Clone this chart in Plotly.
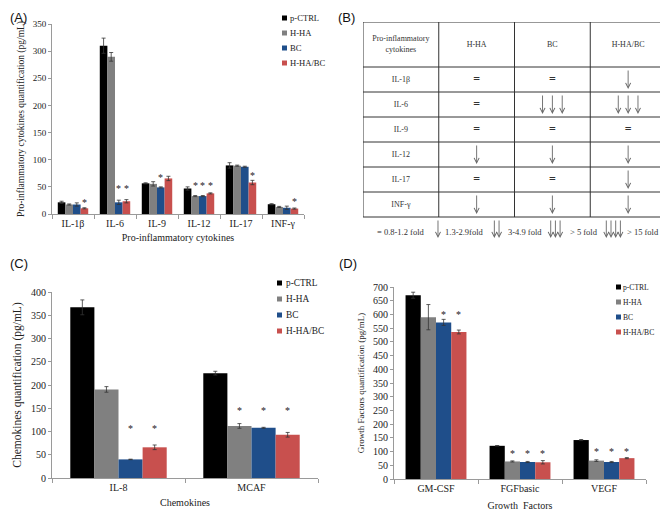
import plotly.graph_objects as go

# the page puts the plot 8px in from the window's top-left corner
W, H, OFF = 660, 503, 8

groups = ['p-CTRL', 'H-HA', 'BC', 'H-HA/BC']
colors = ['#000000', '#808080', '#1f4e8a', '#c8504e']

# (A) pro-inflammatory cytokines, rows = groups
cyto = ['IL-1β', 'IL-6', 'IL-9', 'IL-12', 'IL-17', 'INF-γ']
cyto_mean = [
    [21.5, 310, 56.5, 47, 89.5, 18],
    [17.5, 289.5, 55.5, 33, 89, 13],
    [17.5, 21.5, 49, 33, 87, 11.5],
    [10.5, 23.5, 65.5, 38, 58, 10],
]
cyto_err = [
    [2, 14, 1, 3, 5, 1],
    [1, 8, 4, 1, 1, 1],
    [3, 4, 1, 1, 1, 3],
    [1, 3, 4, 1, 4, 1],
]
cyto_star = [
    [None, None, None, None, None, None],
    [None, None, None, 56.5, None, None],
    [None, 51, 71, 56.5, None, None],
    [24, 51, None, 56.5, 75, 27],
]

# (B) fold change table: 0 = "=", n = number of down arrows
table_rows = ['IL-1β', 'IL-6', 'IL-9', 'IL-12', 'IL-17', 'INF-γ']
table_cols = ['H-HA', 'BC', 'H-HA/BC']
fold = [
    [0, 0, 1],
    [0, 3, 3],
    [0, 0, 0],
    [1, 1, 1],
    [0, 0, 1],
    [1, 1, 1],
]
key_labels = ['= 0.8-1.2 fold', '1.3-2.9fold', '3-4.9 fold', '> 5 fold', '> 15 fold']
key_arrows = [0, 1, 2, 3, 4]

# (C) chemokines
chemo = ['IL-8', 'MCAF']
chemo_mean = [[367, 225.5], [190.5, 112], [40, 108], [66, 93]]
chemo_err = [[16, 4], [6, 5], [0.5, 1], [5, 5]]
chemo_star = [[None, None], [None, 150], [110, 150], [110, 150]]

# (D) growth factors
gf = ['GM-CSF', 'FGFbasic', 'VEGF']
gf_mean = [[670, 121, 142], [590, 64, 67], [571, 62, 62], [536, 61, 76]]
gf_err = [[11, 1, 2], [46, 2, 3], [11, 2, 2], [7, 6, 2]]
gf_star = [[None, None, None], [None, 99, 108], [608, 99, 108], [608, 99, 108]]

SERIF = 'Liberation Serif'
SANS = 'Liberation Sans'
TXT = '#222222'
AX = '#9a9a9a'
BARGAP = 0.275


def fx(p):
    return (p - OFF) / W


def fy(p):
    return 1 - (p - OFF) / H


fig = go.Figure()
annotations = []
shapes = []

panels = [
    dict(ax='', cats=cyto, mean=cyto_mean, err=cyto_err, star=cyto_star,
         xpx=(52, 304), ypx=(214, 24), ymax=350, tick=9, cat=10,
         ytitle='Pro-inflammatory cytokines quantification (pg/mL)', yts=9.5,
         xtitle='Pro-inflammatory cytokines', xts=10, xso=5,
         leg=(282, 288, 18, 15, 8.6)),
    dict(ax='3', cats=chemo, mean=chemo_mean, err=chemo_err, star=chemo_star,
         xpx=(52, 318), ypx=(478, 292), ymax=400, tick=10, cat=10,
         ytitle='Chemokines quantification (pg/mL)', yts=11.5,
         xtitle='Chemokines', xts=10, xso=6,
         leg=(277, 284, 283, 16, 9.3)),
    dict(ax='4', cats=gf, mean=gf_mean, err=gf_err, star=gf_star,
         xpx=(394, 646), ypx=(479, 287), ymax=700, tick=10, cat=10,
         ytitle='Growth Factors quantification (pg/mL)', yts=9,
         xtitle='Growth  Factors', xts=10, xso=8,
         leg=(616, 621, 287, 15, 7.6)),
]

layout_axes = {}
for p in panels:
    xa, ya = 'x' + p['ax'], 'y' + p['ax']
    for j, g in enumerate(groups):
        fig.add_trace(go.Bar(
            x=p['cats'], y=p['mean'][j], name=g, xaxis=xa, yaxis=ya,
            marker=dict(color=colors[j], line=dict(width=0)),
            error_y=dict(type='data', array=p['err'][j], color='#333333',
                         thickness=0.8, width=2),
            showlegend=False,
        ))
        # significance asterisks
        w = (1 - BARGAP) / len(groups)
        for i, s in enumerate(p['star'][j]):
            if s is None:
                continue
            annotations.append(dict(
                x=i - (1 - BARGAP) / 2 + (j + 0.5) * w, y=s, xref=xa, yref=ya,
                text='*', showarrow=False, yanchor='middle', yshift=-2,
                font=dict(family=SERIF, size=10, color=TXT)))
    layout_axes['xaxis' + p['ax']] = dict(
        domain=[fx(p['xpx'][0]), fx(p['xpx'][1])], anchor=ya, type='category',
        showline=True, linecolor=AX, linewidth=1, ticks='outside',
        tickson='boundaries', ticklen=4, tickcolor=AX, showgrid=False,
        tickfont=dict(family=SERIF, size=p['cat'], color=TXT),
        title=dict(text=p['xtitle'], font=dict(family=SERIF, size=p['xts'], color=TXT),
                   standoff=p['xso']))
    layout_axes['yaxis' + p['ax']] = dict(
        domain=[fy(p['ypx'][0]), fy(p['ypx'][1])], anchor=xa,
        range=[0, p['ymax']], dtick=50, showline=True, linecolor=AX, linewidth=1,
        ticks='outside', ticklen=3, tickcolor=AX, showgrid=False, zeroline=False,
        tickfont=dict(family=SERIF, size=p['tick'], color=TXT),
        title=dict(text=p['ytitle'], font=dict(family=SERIF, size=p['yts'], color=TXT),
                   standoff=6))
    # legend key
    sx, tx, y0, step, fs = p['leg']
    for j, g in enumerate(groups):
        yc = y0 + j * step
        shapes.append(dict(type='rect', xref='paper', yref='paper',
                           x0=fx(sx), x1=fx(sx + 5), y0=fy(yc + 2.5), y1=fy(yc - 2.5),
                           fillcolor=colors[j], line=dict(width=0)))
        annotations.append(dict(x=fx(tx), y=fy(yc), xref='paper', yref='paper',
                                text=g, showarrow=False, xanchor='left', yanchor='middle',
                                font=dict(family=SERIF, size=fs, color=TXT)))

# ---- (B) table on hidden axes ----
n_rows = len(table_rows)
head_h = 1.8
top = n_rows + head_h
layout_axes['xaxis2'] = dict(domain=[fx(363), fx(666)], range=[0, 4], visible=False,
                             anchor='y2', fixedrange=True)
layout_axes['yaxis2'] = dict(domain=[fy(245), fy(22)], range=[-1.12, top], visible=False,
                             anchor='x2', fixedrange=True)

LINE = '#333333'
for c in range(len(table_cols) + 2):
    shapes.append(dict(type='line', xref='x2', yref='y2', x0=c, x1=c, y0=0, y1=top,
                       line=dict(color=LINE, width=1)))
for r in list(range(n_rows + 1)) + [top]:
    shapes.append(dict(type='line', xref='x2', yref='y2', x0=0, x1=4, y0=r, y1=r,
                       line=dict(color=LINE, width=1)))

tx_x, tx_y, tx_t = [], [], []
tx_x.append(0.5); tx_y.append(top - head_h / 2); tx_t.append('Pro-inflammatory<br>cytokines')
for c, name in enumerate(table_cols):
    tx_x.append(c + 1.5); tx_y.append(top - head_h / 2); tx_t.append(name)
for r, name in enumerate(table_rows):
    tx_x.append(0.5); tx_y.append(n_rows - r - 0.5); tx_t.append(name)
fig.add_trace(go.Scatter(x=tx_x, y=tx_y, text=tx_t, mode='text', xaxis='x2', yaxis='y2',
                         textfont=dict(family=SERIF, size=8, color='#333333'),
                         showlegend=False, hoverinfo='skip'))

eq_x, eq_y = [], []


def arrows(xc, y_tail, y_tip, n, spacing):
    for k in range(n):
        xk = xc + (k - (n - 1) / 2) * spacing
        annotations.append(dict(x=xk, y=y_tip, ax=xk, ay=y_tail, xref='x2', yref='y2',
                                axref='x2', ayref='y2', text='', showarrow=True,
                                arrowhead=5, arrowsize=1.1, arrowwidth=0.9,
                                arrowcolor='#666666'))


for r, row in enumerate(fold):
    for c, v in enumerate(row):
        xc = c + 1.5
        yc = n_rows - r - 0.5
        if v == 0:
            eq_x.append(xc); eq_y.append(yc)
        else:
            arrows(xc, yc + 0.42, yc - 0.38, v, 0.13)
fig.add_trace(go.Scatter(x=eq_x, y=eq_y, text=['<b>=</b>'] * len(eq_x), mode='text',
                         xaxis='x2', yaxis='y2',
                         textfont=dict(family=SERIF, size=12, color='#333333'),
                         showlegend=False, hoverinfo='skip'))

# key row under the table
key_arrow_x = [None, 0.99, 1.765, 2.54, 3.305]
key_text_x = [0.16, 1.06, 1.89, 2.71, 3.46]
for lab, n, axx, tx in zip(key_labels, key_arrows, key_arrow_x, key_text_x):
    if n:
        arrows(axx, -0.08, -0.84, n, 0.062)
    annotations.append(dict(x=tx, y=-0.6, xref='x2', yref='y2', text=lab, showarrow=False,
                            xanchor='left', yanchor='middle',
                            font=dict(family=SERIF, size=8.5, color='#333333')))

# panel letters
for lab, x, y, anc in [('(A)', 8, 8, 'top'), ('(B)', 336, 8, 'top'),
                       ('(C)', 8, 264, 'middle'), ('(D)', 337, 264, 'middle')]:
    annotations.append(dict(x=fx(x), y=fy(y), xref='paper', yref='paper', text=lab,
                            showarrow=False, xanchor='left', yanchor=anc,
                            font=dict(family=SANS, size=13, color='#111111')))

fig.update_layout(
    width=W, height=H, margin=dict(l=0, r=0, t=0, b=0),
    template='none', paper_bgcolor='white', plot_bgcolor='white',
    barmode='group', bargap=BARGAP, bargroupgap=0,
    annotations=annotations, shapes=shapes, **layout_axes,
)

fig.write_html("out.html")
